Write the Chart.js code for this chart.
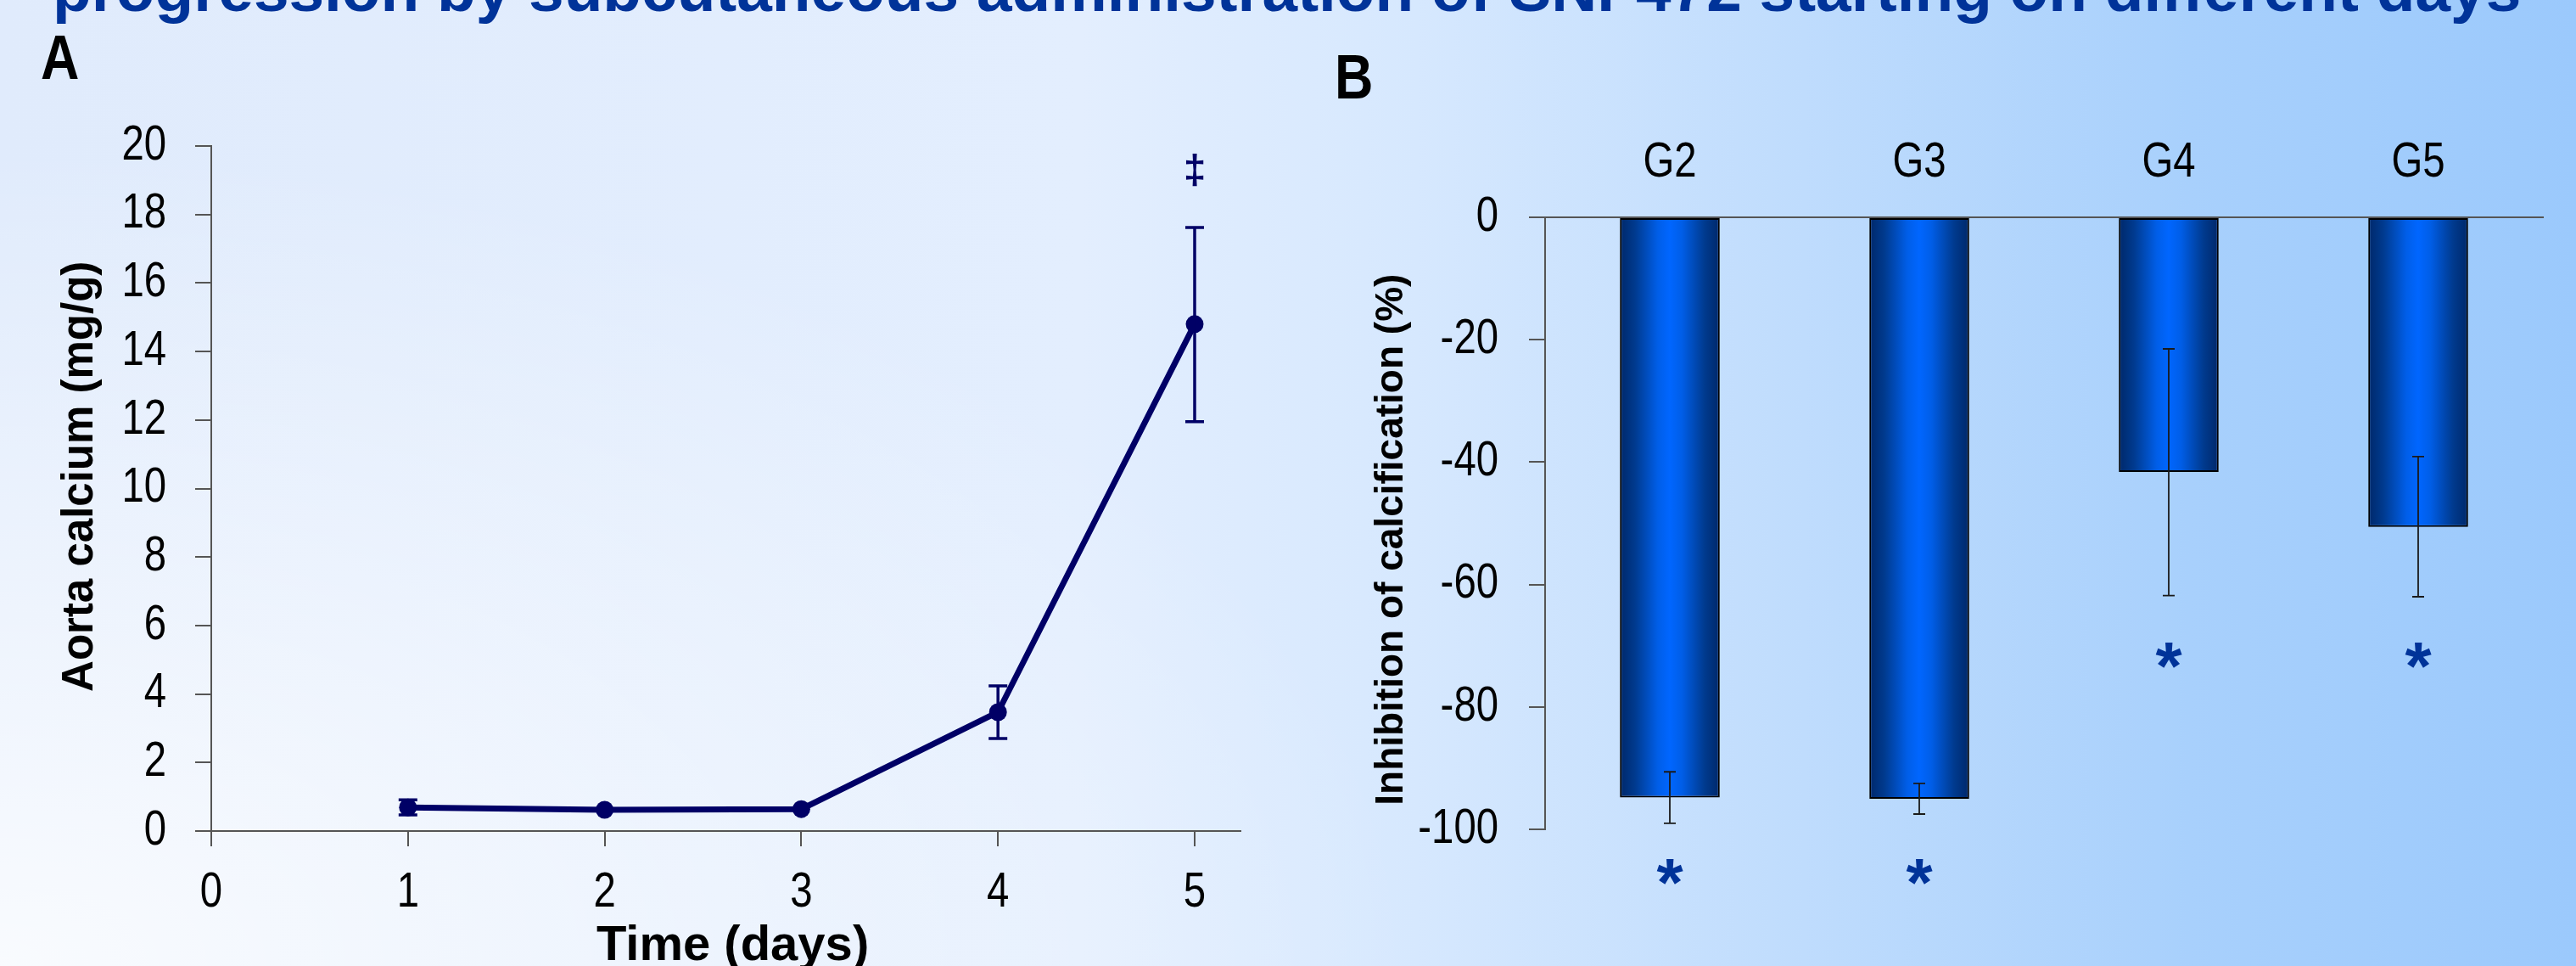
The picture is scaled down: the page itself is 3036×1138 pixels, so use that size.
<!DOCTYPE html>
<html>
<head>
<meta charset="utf-8">
<script src="https://cdn.jsdelivr.net/npm/chart.js@4.4.1/dist/chart.umd.min.js"></script>
<style>
html,body{margin:0;padding:0;width:3036px;height:1138px;overflow:hidden;}
body{position:relative;background:
  radial-gradient(ellipse 55% 85% at 0% 100%, rgba(255,255,255,0.8), rgba(255,255,255,0) 100%),
  linear-gradient(to right, #e0ebfc 0%, #e3eefe 42%, #d6e8fe 55%, #bfdcfd 70%, #a8d0fc 85%, #9bc9fc 100%);}
#title{position:absolute;left:62px;top:-44px;white-space:nowrap;font-weight:bold;font-size:75px;line-height:75px;
  font-family:'Liberation Sans',Arial,sans-serif;color:#003399;transform-origin:0 0;}
.plabel{position:absolute;font-weight:bold;font-size:74px;line-height:74px;color:#000;
  font-family:'Liberation Sans',Arial,sans-serif;transform:scaleX(0.85);transform-origin:0 0;}
canvas{position:absolute;top:0;}
</style>
</head>
<body>
<div id="title">progression by subcutaneous administration of SNF472 starting on different days</div>
<div class="plabel" id="labA" style="left:48px;top:31px;">A</div>
<div class="plabel" id="labB" style="left:1573px;top:54px;">B</div>
<canvas id="cA" width="1500" height="1138" style="left:0px;width:1500px;height:1138px;"></canvas>
<canvas id="cB" width="1536" height="1138" style="left:1500px;width:1536px;height:1138px;"></canvas>
<script>
// ---------- Panel A data ----------
const days = [1, 2, 3, 4, 5];
const calcium = [0.69, 0.62, 0.64, 3.47, 14.8];
const calciumLow = [0.47, null, null, 2.70, 11.95];
const calciumHigh = [0.91, null, null, 4.24, 17.62];
const dayTicks = [0, 1, 2, 3, 4, 5];
const calciumTicks = [0, 2, 4, 6, 8, 10, 12, 14, 16, 18, 20];
const markA_x = [5];
const markA_y = [19.3];
const markA_text = ['\u2021'];

// ---------- Panel B data ----------
const groups = ['G2', 'G3', 'G4', 'G5'];
const inhibition = [-94.8, -95.0, -41.6, -50.6];
const inhibitionLow = [-99.0, -97.5, -61.8, -62.0];
const inhibitionHigh = [-90.6, -92.5, -21.5, -39.1];
const inhibitionTicks = [0, -20, -40, -60, -80, -100];
const starY = [-107, -107, -71.5, -71.5];
const starText = ['*', '*', '*', '*'];

const NAVY = '#000066';
const AXIS = '#555555';
const MARK = '#003399';
// "SqueezeX" is a marker family: text in it is drawn horizontally condensed (Arial Narrow look)
const NARROW = "SqueezeX, 'Liberation Sans', Arial, sans-serif";
const SANS = "'Liberation Sans', Arial, sans-serif";
const SQUEEZE = 0.83;

// fit the (cropped) page title to its width
(function () {
  const el = document.getElementById('title');
  const w = el.getBoundingClientRect().width;
  const fs = 75 * 2910 / w;
  el.style.fontSize = fs + 'px';
  el.style.lineHeight = fs + 'px';
  el.style.top = (13 - fs * 0.8465) + 'px';
})();

function condensedContext(canvas) {
  const ctx = canvas.getContext('2d');
  const proto = CanvasRenderingContext2D.prototype;
  ctx.fillText = function (text, x, y, maxWidth) {
    if (this.font.indexOf('SqueezeX') >= 0) {
      this.save();
      this.translate(x, y);
      this.scale(SQUEEZE, 1);
      if (maxWidth === undefined) proto.fillText.call(this, text, 0, 0);
      else proto.fillText.call(this, text, 0, 0, maxWidth / SQUEEZE);
      this.restore();
    } else {
      if (maxWidth === undefined) proto.fillText.call(this, text, x, y);
      else proto.fillText.call(this, text, x, y, maxWidth);
    }
  };
  return canvas;
}

function drawCentered(ctx, text, x, y, font, color) {
  ctx.save();
  ctx.font = font;
  ctx.fillStyle = color;
  ctx.textAlign = 'center';
  ctx.textBaseline = 'alphabetic';
  const m = ctx.measureText(text);
  const off = (m.actualBoundingBoxAscent - m.actualBoundingBoxDescent) / 2;
  ctx.fillText(text, x, y + off);
  ctx.restore();
}

function errorBars(low, high, color, width, cap) {
  return {
    id: 'errbars',
    afterDatasetsDraw(chart) {
      const ctx = chart.ctx;
      const ys = chart.scales.y;
      const meta = chart.getDatasetMeta(0);
      ctx.save();
      ctx.strokeStyle = color;
      ctx.lineWidth = width;
      low.forEach((lo, i) => {
        const hi = high[i];
        if (lo == null || hi == null) return;
        const x = meta.data[i].x;
        const y1 = ys.getPixelForValue(lo);
        const y2 = ys.getPixelForValue(hi);
        ctx.beginPath();
        ctx.moveTo(x, y1); ctx.lineTo(x, y2);
        ctx.moveTo(x - cap / 2, y1); ctx.lineTo(x + cap / 2, y1);
        ctx.moveTo(x - cap / 2, y2); ctx.lineTo(x + cap / 2, y2);
        ctx.stroke();
      });
      ctx.restore();
    }
  };
}

const gridCommon = (len) => ({display: true, drawOnChartArea: false, drawTicks: true, tickLength: len, color: AXIS, lineWidth: 2});

// ---------- Chart A ----------
new Chart(condensedContext(document.getElementById('cA')), {
  type: 'line',
  data: {
    datasets: [{
      data: days.map((d, i) => ({x: d, y: calcium[i]})),
      borderColor: NAVY,
      backgroundColor: NAVY,
      borderWidth: 7,
      pointRadius: 10.5,
      pointHoverRadius: 10.5,
      pointBorderWidth: 0,
      pointBackgroundColor: NAVY,
      tension: 0,
      clip: false
    }]
  },
  options: {
    responsive: false,
    animation: false,
    events: [],
    layout: {padding: {top: 172, right: 38, left: 0, bottom: 0}},
    plugins: {legend: {display: false}, tooltip: {enabled: false}},
    scales: {
      x: {
        type: 'linear', min: 0, max: 5.233,
        afterBuildTicks: s => { s.ticks = dayTicks.map(v => ({value: v})); },
        afterFit: s => { s.height = 159; },
        grid: gridCommon(18),
        border: {display: true, color: AXIS, width: 2},
        ticks: {color: '#000', font: {family: NARROW, size: 57}, padding: 21, maxRotation: 0, autoSkip: false},
        title: {display: true, text: ' Time (days)', color: '#000',
          font: {family: SANS, size: 58, weight: 'bold', lineHeight: 0.8}, padding: {top: 0, bottom: 0}}
      },
      y: {
        min: 0, max: 20,
        afterBuildTicks: s => { s.ticks = calciumTicks.map(v => ({value: v})); },
        afterFit: s => { s.width = 249; },
        grid: gridCommon(19),
        border: {display: true, color: AXIS, width: 2},
        ticks: {color: '#000', font: {family: NARROW, size: 57}, padding: 34},
        title: {display: true, text: '  Aorta calcium (mg/g)', color: '#000',
          font: {family: SANS, size: 51, weight: 'bold'}, padding: {top: 64, bottom: 0}}
      }
    }
  },
  plugins: [
    errorBars(calciumLow, calciumHigh, NAVY, 3.5, 22),
    {
      id: 'marksA',
      afterDraw(chart) {
        const xs = chart.scales.x, ys = chart.scales.y;
        markA_x.forEach((v, i) => {
          drawCentered(chart.ctx, markA_text[i], xs.getPixelForValue(v), ys.getPixelForValue(markA_y[i]),
            'bold 48px ' + SANS, NAVY);
        });
      }
    }
  ]
});

// ---------- Chart B ----------
function barGradient(ctx) {
  const chart = ctx.chart;
  const xs = chart.scales && chart.scales.x;
  if (!chart.chartArea || !xs || ctx.dataIndex == null) return '#0066ff';
  const c = xs.getPixelForValue(ctx.dataIndex);
  const w = (xs.width / groups.length) * 0.4;
  const g = chart.ctx.createLinearGradient(c - w / 2, 0, c + w / 2, 0);
  g.addColorStop(0, '#00286a');
  g.addColorStop(0.15, '#003a8e');
  g.addColorStop(0.38, '#005ee8');
  g.addColorStop(0.5, '#0066ff');
  g.addColorStop(0.62, '#005ee8');
  g.addColorStop(0.85, '#003a8e');
  g.addColorStop(1, '#00286a');
  return g;
}

new Chart(condensedContext(document.getElementById('cB')), {
  type: 'bar',
  data: {
    labels: groups,
    datasets: [{
      data: inhibition,
      backgroundColor: barGradient,
      borderColor: '#000000',
      borderWidth: 2,
      borderSkipped: false,
      categoryPercentage: 1,
      barPercentage: 0.4
    }]
  },
  options: {
    responsive: false,
    animation: false,
    events: [],
    layout: {padding: {top: 0, right: 39, left: 0, bottom: 161}},
    plugins: {legend: {display: false}, tooltip: {enabled: false}},
    scales: {
      x: {
        position: 'top',
        afterFit: s => { s.height = 256; },
        grid: {display: true, drawOnChartArea: false, drawTicks: false},
        border: {display: true, color: AXIS, width: 2},
        ticks: {color: '#000', font: {family: NARROW, size: 57}, padding: 30}
      },
      y: {
        min: -100, max: 0,
        afterBuildTicks: s => { s.ticks = inhibitionTicks.map(v => ({value: v})); },
        afterFit: s => { s.width = 321; },
        grid: gridCommon(19),
        border: {display: true, color: AXIS, width: 2},
        ticks: {color: '#000', font: {family: NARROW, size: 57}, padding: 36},
        title: {display: true, text: 'Inhibition of calcification (%)   ', color: '#000',
          font: {family: SANS, size: 46, weight: 'bold'}, padding: {top: 113, bottom: 0}}
      }
    }
  },
  plugins: [
    errorBars(inhibitionLow, inhibitionHigh, '#1a1a1a', 1.8, 14),
    {
      id: 'starsB',
      afterDraw(chart) {
        const ys = chart.scales.y;
        const meta = chart.getDatasetMeta(0);
        starY.forEach((v, i) => {
          drawCentered(chart.ctx, starText[i], meta.data[i].x, ys.getPixelForValue(v), 'bold 80px ' + SANS, MARK);
        });
      }
    }
  ]
});
</script>
</body>
</html>
